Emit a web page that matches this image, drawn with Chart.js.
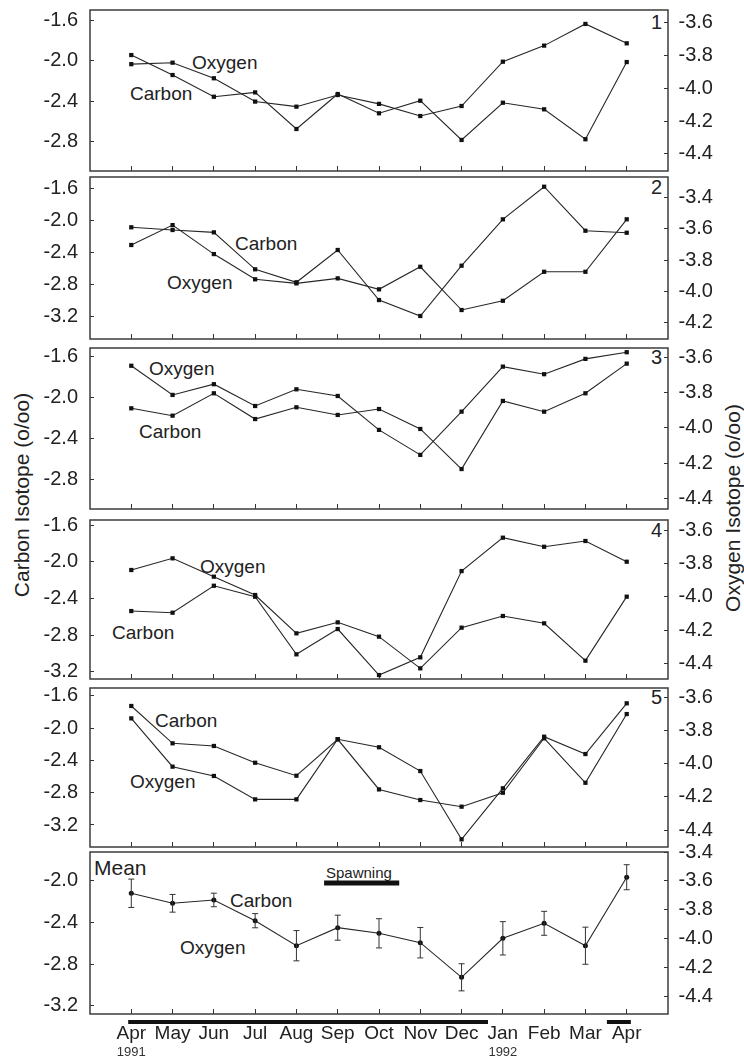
<!DOCTYPE html>
<html lang="en">
<head>
  <meta charset="UTF-8" />
  <title>Carbon and oxygen isotope by month</title>
  <script src="https://cdn.jsdelivr.net/npm/chart.js"></script>
  <style>
    body { margin: 0; background: #fff; }
    #page {
      position: relative; width: 744px; height: 1062px; overflow: hidden;
      font-family: "Liberation Sans", Arial, Helvetica, sans-serif; color: #222;
    }
    #page canvas { position: absolute; left: 0; }
    .lbl { position: absolute; font-size: 19px; line-height: 1; white-space: nowrap; transform: translateY(-50%); }
    .num { position: absolute; right: 82px; font-size: 20px; line-height: 1; transform: translateY(-50%); }
    .ytitle { position: absolute; font-size: 21px; line-height: 1; white-space: nowrap;
              transform: translate(-50%, -50%) rotate(-90deg); }
  </style>
</head>
<body>
<div id="page">
  <!-- axis titles -->
  <div class="ytitle" style="left:21px; top:495px">Carbon Isotope (o/oo)</div>
  <div class="ytitle" style="left:732px; top:508px">Oxygen Isotope (o/oo)</div>

  <!-- panel numbers -->
  <div class="num" style="top:22px">1</div>
  <div class="num" style="top:187px">2</div>
  <div class="num" style="top:357px">3</div>
  <div class="num" style="top:530px">4</div>
  <div class="num" style="top:697px">5</div>

  <!-- series labels -->
  <div class="lbl" style="left:192px; top:62px">Oxygen</div>
  <div class="lbl" style="left:130px; top:93px">Carbon</div>
  <div class="lbl" style="left:235px; top:243px">Carbon</div>
  <div class="lbl" style="left:167px; top:282px">Oxygen</div>
  <div class="lbl" style="left:149px; top:368px">Oxygen</div>
  <div class="lbl" style="left:139px; top:431px">Carbon</div>
  <div class="lbl" style="left:200px; top:566px">Oxygen</div>
  <div class="lbl" style="left:112px; top:632px">Carbon</div>
  <div class="lbl" style="left:155px; top:720px">Carbon</div>
  <div class="lbl" style="left:130px; top:781px">Oxygen</div>
  <div class="lbl" style="left:94px; top:867px; font-size:21px">Mean</div>
  <div class="lbl" style="left:326px; top:872px; font-size:15px">Spawning</div>
  <div class="lbl" style="left:230px; top:900px">Carbon</div>
  <div class="lbl" style="left:180px; top:947px">Oxygen</div>
</div>

<script>
  Chart.defaults.font.family = '"Liberation Sans", Arial, Helvetica, sans-serif';
  Chart.defaults.color = '#222';
  Chart.defaults.animation = false;

  // months, Apr 1991 .. Apr 1992
  const months = ["Apr", "May", "Jun", "Jul", "Aug", "Sep", "Oct", "Nov", "Dec", "Jan", "Feb", "Mar", "Apr"];
  const years = ["1991", "", "", "", "", "", "", "", "", "1992", "", "", ""];

  // values (o/oo)
  const carbon1 = [-1.945, -2.142, -2.356, -2.313, -2.674, -2.329, -2.519, -2.395, -2.782, -2.415, -2.480, -2.775, -2.014];
  const oxygen1 = [-3.853, -3.844, -3.939, -4.081, -4.112, -4.041, -4.095, -4.169, -4.108, -3.838, -3.740, -3.608, -3.726];
  const carbon2 = [-2.086, -2.120, -2.149, -2.610, -2.772, -2.369, -2.993, -3.192, -2.565, -1.987, -1.580, -2.129, -2.154];
  const oxygen2 = [-3.704, -3.577, -3.762, -3.923, -3.949, -3.917, -3.987, -3.843, -4.119, -4.060, -3.875, -3.875, -3.540];
  const carbon3 = [-2.105, -2.177, -1.958, -2.210, -2.095, -2.170, -2.112, -2.307, -2.699, -2.033, -2.138, -1.958, -1.668];
  const oxygen3 = [-3.646, -3.812, -3.751, -3.875, -3.780, -3.818, -4.011, -4.153, -3.907, -3.651, -3.694, -3.607, -3.569];
  const carbon4 = [-2.538, -2.556, -2.262, -2.382, -3.010, -2.734, -3.236, -3.043, -2.102, -1.738, -1.837, -1.774, -2.000];
  const oxygen4 = [-3.840, -3.770, -3.880, -3.990, -4.220, -4.154, -4.240, -4.430, -4.186, -4.116, -4.160, -4.384, -4.000];
  const carbon5 = [-1.724, -2.187, -2.220, -2.428, -2.589, -2.137, -2.236, -2.531, -3.378, -2.745, -2.105, -2.320, -1.691];
  const oxygen5 = [-3.727, -4.018, -4.074, -4.215, -4.215, -3.853, -4.155, -4.219, -4.259, -4.175, -3.847, -4.115, -3.701];
  const carbonMean = [-2.121, -2.217, -2.185, -2.384, -2.624, -2.451, -2.505, -2.595, -2.927, -2.553, -2.409, -2.624, -1.967];
  const carbonMeanErr = [0.136, 0.085, 0.065, 0.068, 0.145, 0.12, 0.14, 0.146, 0.13, 0.16, 0.115, 0.178, 0.12];

  // spawning period and sampling marks (month index units)
  const spawning = [4.67, 6.49];
  const sampledSpans = [[-0.075, 8.64], [11.52, 12.1]];
  const sampledDots = [9.42, 9.93, 10.99];

  // tick labels
  const cTicks4 = [-1.6, -2.0, -2.4, -2.8];
  const cTicks5 = [-1.6, -2.0, -2.4, -2.8, -3.2];
  const cTicksMean = [-2.0, -2.4, -2.8, -3.2];
  const oTicksLow = [-3.6, -3.8, -4.0, -4.2, -4.4];
  const oTicksHigh = [-3.4, -3.6, -3.8, -4.0, -4.2];
  const oTicksMean = [-3.4, -3.6, -3.8, -4.0, -4.2, -4.4];

  // panel frames on the page and the axis range each frame covers
  const panels = [
    { top: 10,  bottom: 171,  cRange: [-3.088, -1.501], oRange: [-4.504, -3.523], carbon: carbon1, oxygen: oxygen1, cTicks: cTicks4, oTicks: oTicksLow },
    { top: 177, bottom: 339,  cRange: [-3.479, -1.459], oRange: [-4.304, -3.270], carbon: carbon2, oxygen: oxygen2, cTicks: cTicks5, oTicks: oTicksHigh },
    { top: 348, bottom: 509,  cRange: [-3.090, -1.515], oRange: [-4.461, -3.545], carbon: carbon3, oxygen: oxygen3, cTicks: cTicks4, oTicks: oTicksLow },
    { top: 520, bottom: 679,  cRange: [-3.279, -1.545], oRange: [-4.494, -3.540], carbon: carbon4, oxygen: oxygen4, cTicks: cTicks5, oTicks: oTicksLow },
    { top: 688, bottom: 847,  cRange: [-3.473, -1.501], oRange: [-4.502, -3.544], carbon: carbon5, oxygen: oxygen5, cTicks: cTicks5, oTicks: oTicksLow },
    { top: 852, bottom: 1014, cRange: [-3.279, -1.725], oRange: [-4.520, -3.400], mean: true, cTicks: cTicksMean, oTicks: oTicksMean }
  ];

  const spawningLevel = -2.022;
  const sampledLevel = -3.356;

  const pts = arr => arr.map((v, i) => ({ x: i, y: v }));

  const lineStyle = {
    borderColor: '#262626', borderWidth: 1.1,
    pointStyle: 'rect', pointRadius: 3, pointBorderWidth: 0, pointBackgroundColor: '#111'
  };

  const framePlugin = {
    id: 'frame',
    afterDraw(chart) {
      const { ctx, chartArea: a } = chart;
      ctx.save();
      ctx.strokeStyle = '#3c3c3c';
      ctx.lineWidth = 1.5;
      ctx.strokeRect(a.left, a.top, a.right - a.left, a.bottom - a.top);
      ctx.restore();
    }
  };

  const errorBarPlugin = {
    id: 'errorBars',
    afterDatasetsDraw(chart) {
      const { ctx } = chart;
      const xs = chart.scales.x, ys = chart.scales.yC;
      ctx.save();
      ctx.strokeStyle = '#333';
      ctx.lineWidth = 1;
      carbonMean.forEach((v, i) => {
        const px = xs.getPixelForValue(i);
        const t = ys.getPixelForValue(v + carbonMeanErr[i]);
        const b = ys.getPixelForValue(v - carbonMeanErr[i]);
        ctx.beginPath();
        ctx.moveTo(px, t); ctx.lineTo(px, b);
        ctx.moveTo(px - 3, t); ctx.lineTo(px + 3, t);
        ctx.moveTo(px - 3, b); ctx.lineTo(px + 3, b);
        ctx.stroke();
      });
      ctx.restore();
    }
  };

  const yearPlugin = {
    id: 'years',
    afterDraw(chart) {
      const { ctx, chartArea } = chart;
      const xs = chart.scales.x;
      ctx.save();
      ctx.font = '13px "Liberation Sans", Arial, sans-serif';
      ctx.fillStyle = '#333';
      ctx.textAlign = 'center';
      ctx.textBaseline = 'middle';
      years.forEach((t, i) => {
        if (t) ctx.fillText(t, xs.getPixelForValue(i), chartArea.bottom + 38);
      });
      ctx.restore();
    }
  };

  const page = document.getElementById('page');

  panels.forEach(p => {
    const pad = 15;
    const bottomSpace = p.mean ? 48 : 5;
    const canvas = document.createElement('canvas');
    canvas.width = 744;
    canvas.height = (p.bottom - p.top) + pad + bottomSpace;
    canvas.style.top = (p.top - pad) + 'px';
    page.appendChild(canvas);

    let datasets;
    if (p.mean) {
      datasets = [
        { data: pts(carbonMean), yAxisID: 'yC', ...lineStyle, pointStyle: 'circle', pointRadius: 2.5 },
        { data: spawning.map(x => ({ x, y: spawningLevel })), yAxisID: 'yC',
          borderColor: '#111', borderWidth: 5, borderCapStyle: 'butt', pointRadius: 0 },
        ...sampledSpans.map(s => ({
          data: s.map(x => ({ x, y: sampledLevel })), yAxisID: 'yC', clip: false,
          borderColor: '#111', borderWidth: 4, borderCapStyle: 'butt', pointRadius: 0
        })),
        { data: sampledDots.map(x => ({ x, y: sampledLevel })), yAxisID: 'yC', clip: false,
          showLine: false, pointStyle: 'rect', pointRadius: 2.5, pointBorderWidth: 0, pointBackgroundColor: '#111' }
      ];
    } else {
      datasets = [
        { data: pts(p.carbon), yAxisID: 'yC', ...lineStyle },
        { data: pts(p.oxygen), yAxisID: 'yO', ...lineStyle }
      ];
    }

    new Chart(canvas.getContext('2d'), {
      type: 'line',
      data: { datasets },
      options: {
        responsive: false,
        animation: false,
        events: [],
        layout: { padding: { top: pad, left: 0, right: 0, bottom: 0 } },
        plugins: { legend: { display: false }, tooltip: { enabled: false } },
        scales: {
          x: {
            type: 'linear', min: -1, max: 13,
            afterBuildTicks: s => { s.ticks = months.map((m, i) => ({ value: i })); },
            afterFit: s => { s.height = bottomSpace; s.paddingLeft = 0; s.paddingRight = 0; },
            grid: { drawOnChartArea: false, tickLength: -5, color: '#333' },
            border: { display: false },
            ticks: { display: !!p.mean, autoSkip: false, maxRotation: 0, padding: 13,
                     font: { size: 19 }, callback: v => months[v] }
          },
          yC: {
            position: 'left', min: p.cRange[0], max: p.cRange[1],
            afterBuildTicks: s => { s.ticks = p.cTicks.map(v => ({ value: v })); },
            afterFit: s => { s.width = 90; s.paddingTop = 0; s.paddingBottom = 0; },
            grid: { drawOnChartArea: false, tickLength: -4, color: '#333' },
            border: { display: false },
            ticks: { padding: 16, font: { size: 20 }, callback: v => v.toFixed(1) }
          },
          yO: {
            position: 'right', min: p.oRange[0], max: p.oRange[1],
            afterBuildTicks: s => { s.ticks = p.oTicks.map(v => ({ value: v })); },
            afterFit: s => { s.width = 76; s.paddingTop = 0; s.paddingBottom = 0; },
            grid: { drawOnChartArea: false, tickLength: -4, color: '#333' },
            border: { display: false },
            ticks: { padding: 14.5, font: { size: 20 }, callback: v => v.toFixed(1) }
          }
        }
      },
      plugins: p.mean ? [framePlugin, errorBarPlugin, yearPlugin] : [framePlugin]
    });
  });
</script>
</body>
</html>
